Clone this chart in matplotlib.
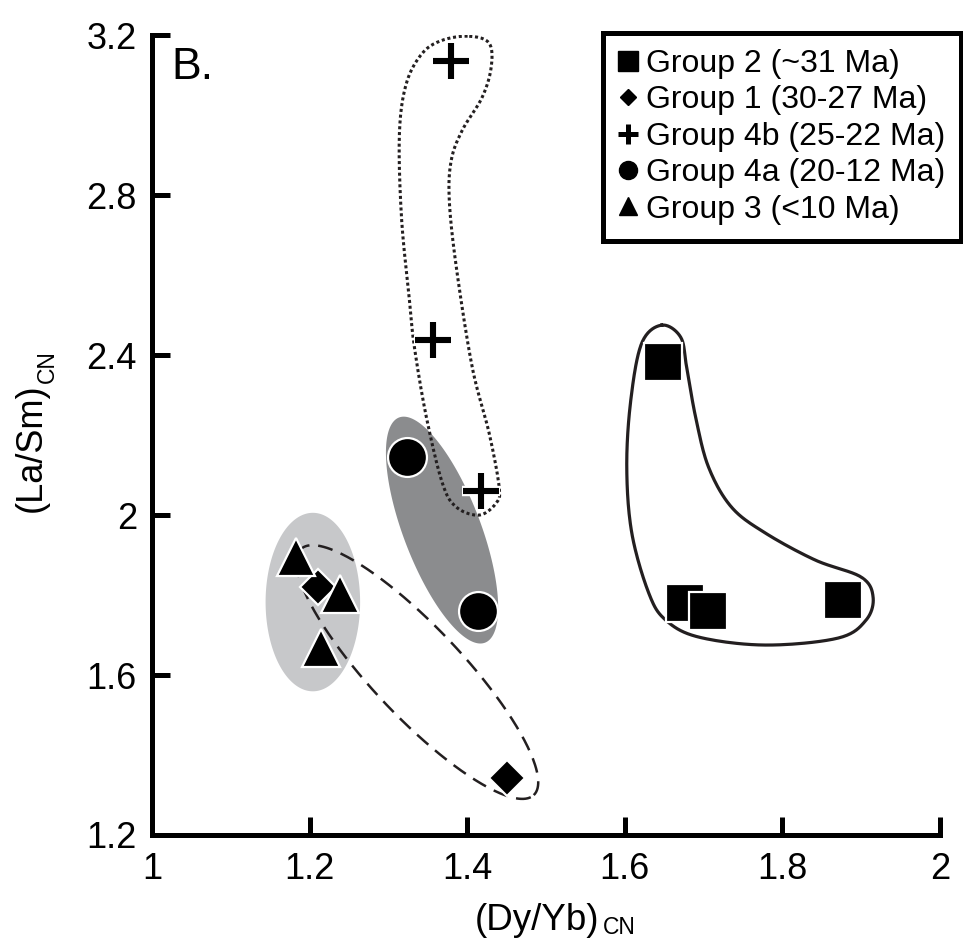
import numpy as np
import matplotlib
matplotlib.use('Agg')
import matplotlib.pyplot as plt
from matplotlib.lines import Line2D

plt.rcParams['font.family'] = ['Liberation Sans', 'DejaVu Sans']

# sample groups, (Dy/Yb)CN vs (La/Sm)CN
g2_x = [1.648, 1.676, 1.706, 1.877]
g2_y = [2.383, 1.780, 1.760, 1.787]
g1_x = [1.210, 1.451]
g1_y = [1.820, 1.342]
g4b_x = [1.380, 1.357, 1.418]
g4b_y = [3.135, 2.437, 2.060]
g4a_x = [1.323, 1.414]
g4a_y = [2.145, 1.760]
g3_x = [1.183, 1.238, 1.214]
g3_y = [1.896, 1.802, 1.667]

labels = ['Group 2 (~31 Ma)', 'Group 1 (30-27 Ma)', 'Group 4b (25-22 Ma)',
          'Group 4a (20-12 Ma)', 'Group 3 (<10 Ma)']

xticks = [1, 1.2, 1.4, 1.6, 1.8, 2]
xticklabels = ['1', '1.2', '1.4', '1.6', '1.8', '2']
yticks = [1.2, 1.6, 2.0, 2.4, 2.8, 3.2]
yticklabels = ['1.2', '1.6', '2', '2.4', '2.8', '3.2']

# hand-drawn outlines around groups
g4b_out_x = [1.4025, 1.4278, 1.4304, 1.419, 1.3937, 1.3797, 1.3772, 1.3861, 1.4063,
             1.4278, 1.4405, 1.4367, 1.4152, 1.3861, 1.3684, 1.3481, 1.3329, 1.3266,
             1.3165, 1.3139, 1.3228, 1.343, 1.3684]
g4b_out_y = [3.1975, 3.18, 3.12, 3.045, 2.9625, 2.8875, 2.7875, 2.62, 2.37,
             2.205, 2.07, 2.03, 2.0, 2.02, 2.08, 2.245, 2.42, 2.5375,
             2.745, 2.955, 3.08, 3.155, 3.1875]
g2_out_x = [1.6468, 1.6709, 1.6785, 1.6899, 1.7063, 1.7354, 1.7785, 1.8418, 1.9,
            1.9152, 1.9063, 1.8709, 1.7785, 1.6937, 1.6519, 1.6304, 1.6089, 1.6025,
            1.6076, 1.6215]
g2_out_y = [2.475, 2.445, 2.37, 2.245, 2.12, 2.02, 1.955, 1.8875, 1.845,
            1.795, 1.7375, 1.6925, 1.675, 1.695, 1.7375, 1.805, 1.955, 2.12,
            2.2875, 2.43]

W, H = 963, 942
fig = plt.figure(figsize=(W / 100, H / 100), dpi=100)
ax = fig.add_axes([0.158, 0.1136, 0.818, 0.849])
ax.set_xlim(1, 2)
ax.set_ylim(1.2, 3.2)

# screen aspect: y units per x unit
R = (2.0 / (0.849 * H)) / (1.0 / (0.818 * W))


def ellipse(cx, cy, a, b, ang, n=300):
    t = np.linspace(0, 2 * np.pi, n)
    th = np.radians(ang)
    u, v = a * np.cos(t), b * np.sin(t)
    return cx + u * np.cos(th) - v * np.sin(th), cy + (u * np.sin(th) + v * np.cos(th)) * R


def smooth_closed(xs, ys, k=20):
    # closed Catmull-Rom curve through the outline points
    p = np.column_stack([xs, np.array(ys) / R])
    n = len(p)
    out = []
    s = np.linspace(0, 1, k, endpoint=False)[:, None]
    for i in range(n):
        p0, p1, p2, p3 = p[i - 1], p[i], p[(i + 1) % n], p[(i + 2) % n]
        seg = 0.5 * ((2 * p1) + (-p0 + p2) * s + (2 * p0 - 5 * p1 + 4 * p2 - p3) * s ** 2
                     + (-p0 + 3 * p1 - 3 * p2 + p3) * s ** 3)
        out.append(seg)
    out = np.vstack(out + [out[0][:1]])
    return out[:, 0], out[:, 1] * R


ex, ey = ellipse(1.204, 1.7825, 0.060, 0.1133, 0)
ax.fill(ex, ey, color='#c7c8ca', lw=0, zorder=1)
ex, ey = ellipse(1.3367, 1.6075, 0.215, 0.057, -46.6)
ax.plot(ex, ey, color='#231f20', lw=1.8, ls=(0, (6, 3.5)), zorder=2)
ex, ey = ellipse(1.368, 1.9625, 0.153, 0.049, -69.1)
ax.fill(ex, ey, color='#8b8c8e', lw=0, zorder=2)
sx, sy = smooth_closed(g4b_out_x, g4b_out_y)
ax.plot(sx, sy, color='#231f20', lw=2.2, ls=(0, (1, 0.9)), dash_capstyle='butt', zorder=3)
sx, sy = smooth_closed(g2_out_x, g2_out_y)
ax.plot(sx, sy, color='#231f20', lw=2.3, zorder=3)

mk = dict(ls='none', color='black', mec='white', mew=1.6, zorder=5)
ax.plot(g2_x, g2_y, marker='s', ms=27, **mk)
ax.plot(g1_x, g1_y, marker='D', ms=18.5, **mk)
ax.plot(g4a_x, g4a_y, marker='o', ms=28, **mk)
ax.plot(g3_x, g3_y, marker='^', ms=27, **mk)
ax.plot(g4b_x, g4b_y, marker='+', ms=27, ls='none', color='white', mew=7.5, zorder=5)
ax.plot(g4b_x, g4b_y, marker='+', ms=26, ls='none', color='black', mew=4.4, zorder=6)

for s in ['top', 'right']:
    ax.spines[s].set_visible(False)
for s in ['left', 'bottom']:
    ax.spines[s].set_linewidth(3.6)
ax.set_xticks(xticks)
ax.set_xticklabels(xticklabels)
ax.set_yticks(yticks)
ax.set_yticklabels(yticklabels)
ax.tick_params(direction='in', length=13, width=3.6, labelsize=26)
ax.tick_params(axis='x', pad=12)
ax.tick_params(axis='y', pad=11)

# axis titles with small CN subscripts
fig.text(475 / W, 1 - 938 / H, '(Dy/Yb)', fontsize=26.5, ha='left', va='bottom')
fig.text(603 / W, 1 - 939 / H, 'CN', fontsize=16.5, ha='left', va='bottom')
fig.text(14 / W, 1 - 512 / H, '(La/Sm)', fontsize=26, rotation=90, ha='left', va='bottom')
fig.text(36 / W, 1 - 383 / H, 'CN', fontsize=16.5, rotation=90, ha='left', va='bottom')

ax.text(0.025, 0.985, 'B.', transform=ax.transAxes, fontsize=32, va='top', ha='left')

handles = [Line2D([], [], ls='none', marker='s', ms=14, color='black'),
           Line2D([], [], ls='none', marker='D', ms=8, color='black'),
           Line2D([], [], ls='none', marker='+', ms=14, mew=3.6, color='black'),
           Line2D([], [], ls='none', marker='o', ms=13, color='black'),
           Line2D([], [], ls='none', marker='^', ms=13.5, color='black')]
leg = fig.legend(handles, labels, loc='upper right', bbox_to_anchor=(961 / W, 1 - 33 / H),
                 fontsize=23, frameon=True, fancybox=False, edgecolor='black',
                 framealpha=1, labelspacing=0.2, handlelength=0.6, handletextpad=0.25,
                 borderpad=0.5, borderaxespad=0)
leg.get_frame().set_linewidth(3.6)

fig.savefig('out.png', dpi=100)
